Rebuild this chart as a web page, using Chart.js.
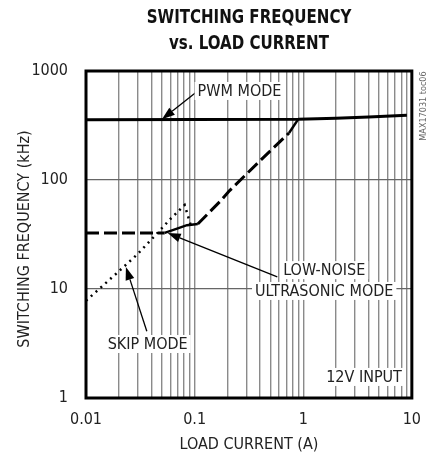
<!DOCTYPE html>
<html>
<head>
<meta charset="utf-8">
<script src="https://cdn.jsdelivr.net/npm/chart.js@4.4.1/dist/chart.umd.min.js"></script>
<style>
  html, body { margin: 0; padding: 0; background: #fff; }
  #wrap { position: relative; width: 433px; height: 459px; }
</style>
</head>
<body>
<div id="wrap"><canvas id="freqChart"></canvas></div>
<script>
// axis labels
const xLabels = [0.01, 0.1, 1, 10];
const yLabels = [1, 10, 100, 1000];

// PWM mode (solid)
const pwmCurrent = [0.01, 0.9, 2, 4, 9];
const pwmFreq = [358, 360, 368, 378, 392];

// low-noise ultrasonic mode (dashed)
const ultraCurrent = [0.01, 0.053, 0.07, 0.085, 0.107, 0.17, 0.21, 0.4, 0.74, 0.9];
const ultraFreq = [32.7, 32.7, 36, 38.5, 39.5, 63, 80, 150, 270, 362];

// skip mode (dotted)
const skipCurrent = [0.01, 0.02, 0.03, 0.042, 0.06, 0.081, 0.094];
const skipFreq = [7.8, 14.5, 21, 30, 44, 59, 36];

const FONT = '"Liberation Sans Narrow", "DejaVu Sans Condensed", "Roboto Condensed", "Liberation Sans", sans-serif';

const labels = [
  { text: 'PWM MODE', x: 0.259, y: 656 },
  { text: 'LOW-NOISE', x: 1.56, y: 14.9 },
  { text: 'ULTRASONIC MODE', x: 1.56, y: 9.6 },
  { text: 'SKIP MODE', x: 0.037, y: 3.13 },
  { text: '12V INPUT', x: 8.1, y: 1.56, align: 'right' }
];
const arrows = [
  { from: [0.104, 642], to: [0.05, 360] },
  { from: [0.577, 12.9], to: [0.0565, 32.6] },
  { from: [0.0363, 4.1], to: [0.0233, 15.9] }
];

const toPoints = (xs, ys) => xs.map((x, i) => ({ x: x, y: ys[i] }));

// all minor ticks for the x grid
const xTicks = [];
[0.01, 0.1, 1].forEach(d => {
  for (let k = 1; k <= 9; k++) xTicks.push(Number((k * d).toPrecision(3)));
});
xTicks.push(10);

// solid pieces of the ultrasonic curve
const solidPiece = ctx => (ctx.p0.parsed.x >= 0.05 && ctx.p1.parsed.x <= 0.11) || ctx.p1.parsed.x >= 0.85;

const decorPlugin = {
  id: 'decor',
  beforeDatasetsDraw(chart) {
    const { ctx, chartArea: a } = chart;
    ctx.save();
    ctx.strokeStyle = '#000';
    ctx.lineWidth = 3;
    ctx.strokeRect(a.left, a.top, a.right - a.left, a.bottom - a.top);
    ctx.restore();
  },
  afterDatasetsDraw(chart) {
    const { ctx, scales } = chart;
    const px = v => scales.x.getPixelForValue(v);
    const py = v => scales.y.getPixelForValue(v);
    ctx.save();

    // arrows
    ctx.strokeStyle = '#000';
    ctx.fillStyle = '#000';
    ctx.lineWidth = 1.3;
    arrows.forEach(ar => {
      const x0 = px(ar.from[0]), y0 = py(ar.from[1]);
      const x1 = px(ar.to[0]), y1 = py(ar.to[1]);
      const ang = Math.atan2(y1 - y0, x1 - x0);
      const len = 13, w = 4.5;
      ctx.beginPath();
      ctx.moveTo(x0, y0);
      ctx.lineTo(x1 - Math.cos(ang) * len, y1 - Math.sin(ang) * len);
      ctx.stroke();
      ctx.beginPath();
      ctx.moveTo(x1, y1);
      ctx.lineTo(x1 - Math.cos(ang) * len + Math.sin(ang) * w, y1 - Math.sin(ang) * len - Math.cos(ang) * w);
      ctx.lineTo(x1 - Math.cos(ang) * len - Math.sin(ang) * w, y1 - Math.sin(ang) * len + Math.cos(ang) * w);
      ctx.closePath();
      ctx.fill();
    });

    // text labels on white boxes
    ctx.font = '16px ' + FONT;
    ctx.textBaseline = 'middle';
    labels.forEach(l => {
      const w = ctx.measureText(l.text).width;
      let x = px(l.x);
      const y = py(l.y);
      if (l.align === 'right') x -= w / 2;
      ctx.fillStyle = '#fff';
      ctx.fillRect(x - w / 2 - 3, y - 9, w + 6, 18);
      ctx.fillStyle = '#222';
      ctx.textAlign = 'center';
      ctx.fillText(l.text, x, y + 1);
    });

    // axis titles
    ctx.fillStyle = '#222';
    ctx.textAlign = 'center';
    ctx.fillText('LOAD CURRENT (A)', (chart.chartArea.left + chart.chartArea.right) / 2, 445);
    ctx.save();
    ctx.translate(25, 239);
    ctx.rotate(-Math.PI / 2);
    ctx.fillText('SWITCHING FREQUENCY (kHz)', 0, 0);
    ctx.restore();

    // side code
    ctx.save();
    ctx.font = '9px ' + FONT;
    ctx.fillStyle = '#666';
    ctx.translate(424, 106);
    ctx.rotate(-Math.PI / 2);
    ctx.fillText('MAX17031 toc06', 0, 0);
    ctx.restore();

    // chart title (narrowed to match the condensed face)
    ctx.save();
    ctx.font = 'bold 19px ' + FONT;
    ctx.fillStyle = '#111';
    ctx.translate(249, 0);
    ctx.scale(0.88, 1);
    ctx.fillText('SWITCHING FREQUENCY', 0, 18);
    ctx.fillText('vs. LOAD CURRENT', 0, 44);
    ctx.restore();
    ctx.restore();
  }
};

new Chart(document.getElementById('freqChart'), {
  type: 'line',
  data: {
    datasets: [
      {
        label: 'PWM MODE',
        data: toPoints(pwmCurrent, pwmFreq),
        borderColor: '#000',
        borderWidth: 3,
        pointRadius: 0,
        tension: 0
      },
      {
        label: 'LOW-NOISE ULTRASONIC MODE',
        data: toPoints(ultraCurrent, ultraFreq),
        borderColor: '#000',
        borderWidth: 3,
        borderDash: [13, 5],
        pointRadius: 0,
        tension: 0,
        segment: {
          borderDash: ctx => solidPiece(ctx) ? [] : [13, 5],
          borderWidth: ctx => solidPiece(ctx) ? 2.5 : 3
        }
      },
      {
        label: 'SKIP MODE',
        data: toPoints(skipCurrent, skipFreq),
        borderColor: '#000',
        borderWidth: 2.5,
        borderDash: [2, 4.5],
        pointRadius: 0,
        tension: 0
      }
    ]
  },
  options: {
    responsive: true,
    maintainAspectRatio: false,
    animation: false,
    layout: { padding: { left: 0, top: 71, right: 20, bottom: 0 } },
    plugins: { legend: { display: false }, tooltip: { enabled: false } },
    scales: {
      x: {
        type: 'logarithmic',
        min: 0.01,
        max: 10,
        afterBuildTicks: scale => { scale.ticks = xTicks.map(v => ({ value: v })); },
        afterFit: scale => { scale.height = 61; },
        border: { display: false },
        grid: {
          drawTicks: false,
          color: ctx => (ctx.tick && (ctx.tick.value === 0.01 || ctx.tick.value === 10)) ? 'rgba(0,0,0,0)' : '#8a8a8a',
          lineWidth: 1.4
        },
        ticks: {
          autoSkip: false,
          maxRotation: 0,
          padding: 12,
          color: '#222',
          font: { family: FONT, size: 16 },
          callback: v => xLabels.includes(v) ? String(v) : ''
        }
      },
      y: {
        type: 'logarithmic',
        min: 1,
        max: 1000,
        afterBuildTicks: scale => { scale.ticks = yLabels.map(v => ({ value: v })); },
        afterFit: scale => { scale.width = 86; },
        border: { display: false },
        grid: {
          drawTicks: false,
          color: ctx => (ctx.tick && (ctx.tick.value === 1 || ctx.tick.value === 1000)) ? 'rgba(0,0,0,0)' : '#666',
          lineWidth: 1.2
        },
        ticks: {
          padding: 18,
          color: '#222',
          font: { family: FONT, size: 16 },
          callback: v => String(v)
        }
      }
    }
  },
  plugins: [decorPlugin]
});
</script>
</body>
</html>
